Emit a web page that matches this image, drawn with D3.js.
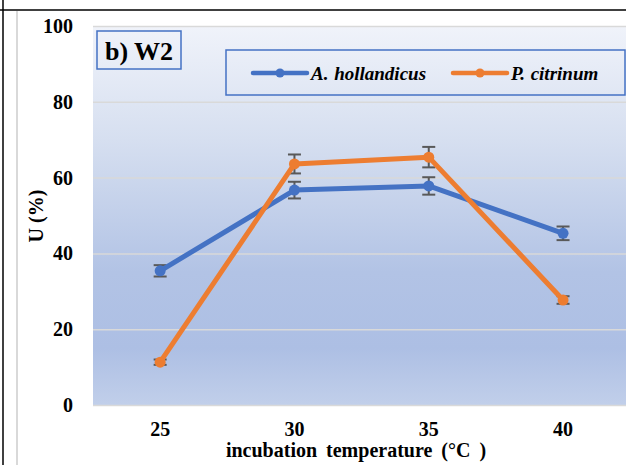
<!DOCTYPE html>
<html>
<head>
<meta charset="utf-8">
<script src="https://cdn.jsdelivr.net/npm/d3@7/dist/d3.min.js"></script>
<style>
  html, body { margin: 0; padding: 0; background: #fff; }
  svg { display: block; }
  text { font-family: "Liberation Serif", "Times New Roman", serif; font-weight: bold; fill: #000; }
</style>
</head>
<body>
<svg id="chart" width="626" height="465"></svg>
<script>
// Incubation temperatures (°C) and U (%) for each fungus, with error bars
const temperatures = ["25", "30", "35", "40"];
const hollandicus = [35.4, 56.7, 57.8, 45.3];
const hollandicusErr = [1.5, 2.2, 2.3, 1.8];
const citrinum = [11.3, 63.6, 65.4, 27.7];
const citrinumErr = [0.7, 2.5, 2.7, 1.0];
const yTicks = [0, 20, 40, 60, 80, 100];
const seriesNames = ["A. hollandicus", "P.  citrinum"];
const seriesColors = ["#4472C4", "#ED7D31"];

const svg = d3.select("#chart");

// page frame lines
svg.append("line").attr("x1", 0).attr("x2", 626).attr("y1", 10).attr("y2", 10)
  .attr("stroke", "#000").attr("stroke-width", 1.5);
svg.append("line").attr("x1", 3).attr("x2", 3).attr("y1", 0).attr("y2", 465)
  .attr("stroke", "#000").attr("stroke-width", 1.5);
svg.append("line").attr("x1", 17).attr("x2", 17).attr("y1", 11).attr("y2", 465)
  .attr("stroke", "#d9d9d9").attr("stroke-width", 2);

const plot = { left: 93, top: 26, bottom: 405 };
const step = 134.3;
const x = d3.scaleBand().domain(temperatures)
  .range([plot.left, plot.left + step * temperatures.length]).padding(0);
const y = d3.scaleLinear().domain([0, 100]).range([plot.bottom, plot.top]);
const cx = d => x(d) + x.bandwidth() / 2;

// plot area gradient
const defs = svg.append("defs");
const grad = defs.append("linearGradient").attr("id", "bg")
  .attr("x1", 0).attr("y1", 0).attr("x2", 0).attr("y2", 1);
[[0, "#f0f3fa"], [0.3, "#d6dff0"], [0.65, "#b2c3e5"], [0.85, "#adbfe4"], [1, "#c1cfea"]]
  .forEach(([o, c]) => grad.append("stop").attr("offset", o).attr("stop-color", c));

svg.append("rect")
  .attr("x", plot.left).attr("y", plot.top)
  .attr("width", 626 - plot.left).attr("height", plot.bottom - plot.top)
  .attr("fill", "url(#bg)");

// horizontal gridlines
const yAxis = d3.axisLeft(y).tickValues(yTicks).tickSize(-(626 - plot.left)).tickPadding(20);
const gy = svg.append("g").attr("transform", `translate(${plot.left},0)`).call(yAxis);
gy.select(".domain").remove();
gy.selectAll(".tick line").attr("stroke", "#d9d9d9").attr("stroke-width", 1.5);
gy.selectAll(".tick text").attr("font-size", 20).attr("dy", "0.32em")
  .style("font-family", "Liberation Serif").style("font-weight", "bold");

// x axis labels
const xAxis = d3.axisBottom(x).tickSize(0).tickPadding(17);
const gx = svg.append("g").attr("transform", `translate(0,${plot.bottom})`).call(xAxis);
gx.select(".domain").remove();
gx.selectAll(".tick text").attr("font-size", 20)
  .style("font-family", "Liberation Serif").style("font-weight", "bold");

// axis titles
svg.append("text").attr("x", 356).attr("y", 457).attr("text-anchor", "middle")
  .attr("font-size", 20).attr("word-spacing", 4).text("incubation temperature (°C )");
svg.append("text").attr("transform", "translate(43,216) rotate(-90)")
  .attr("text-anchor", "middle").attr("font-size", 20).text("U (%)");

// series
const series = [
  { values: hollandicus, err: hollandicusErr, color: seriesColors[0] },
  { values: citrinum, err: citrinumErr, color: seriesColors[1] }
];
const line = d3.line().x((d, i) => cx(temperatures[i])).y(d => y(d));

series.forEach(s => {
  const g = svg.append("g");
  // error bars
  s.values.forEach((v, i) => {
    const px = cx(temperatures[i]);
    const eb = g.append("g").attr("stroke", "#595959").attr("stroke-width", 2);
    eb.append("line").attr("x1", px).attr("x2", px)
      .attr("y1", y(v - s.err[i])).attr("y2", y(v + s.err[i]));
    [v - s.err[i], v + s.err[i]].forEach(e => {
      eb.append("line").attr("x1", px - 6.5).attr("x2", px + 6.5)
        .attr("y1", y(e)).attr("y2", y(e));
    });
  });
  g.append("path").datum(s.values).attr("d", line)
    .attr("fill", "none").attr("stroke", s.color).attr("stroke-width", 5)
    .attr("stroke-linejoin", "round").attr("stroke-linecap", "round");
  g.selectAll("circle").data(s.values).join("circle")
    .attr("cx", (d, i) => cx(temperatures[i])).attr("cy", d => y(d))
    .attr("r", 5.5).attr("fill", s.color);
});

// panel label
svg.append("rect").attr("x", 97).attr("y", 31).attr("width", 84).attr("height", 38)
  .attr("fill", "none").attr("stroke", "#4472C4").attr("stroke-width", 1.5);
svg.append("text").attr("x", 139).attr("y", 60).attr("text-anchor", "middle")
  .attr("font-size", 26).text("b) W2");

// legend
const legend = svg.append("g");
legend.append("rect").attr("x", 226).attr("y", 50).attr("width", 399).attr("height", 45)
  .attr("fill", "none").attr("stroke", "#4472C4").attr("stroke-width", 1.5);
const legendX = [253, 453];
seriesNames.forEach((name, i) => {
  const lx = legendX[i];
  legend.append("line").attr("x1", lx).attr("x2", lx + 54).attr("y1", 73).attr("y2", 73)
    .attr("stroke", seriesColors[i]).attr("stroke-width", 4.5).attr("stroke-linecap", "round");
  legend.append("circle").attr("cx", lx + 27).attr("cy", 73).attr("r", 4.5)
    .attr("fill", seriesColors[i]);
  legend.append("text").attr("x", lx + 58).attr("y", 79.5)
    .attr("font-size", 19).attr("font-style", "italic").attr("word-spacing", 1).text(name);
});
</script>
</body>
</html>
